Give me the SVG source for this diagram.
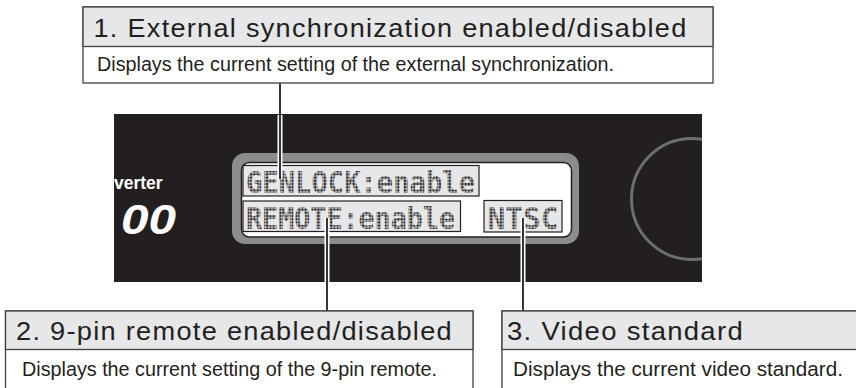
<svg xmlns="http://www.w3.org/2000/svg" width="856" height="388" viewBox="0 0 856 388">
  <defs>
    <style>
      .box { fill: #ffffff; stroke: #414042; stroke-width: 1.3; }
      .hdr { fill: #e6e7e8; stroke: #414042; stroke-width: 1.3; }
      .htxt { font-family: "Liberation Sans", Arial, sans-serif; font-size: 25.5px; letter-spacing: 1.2px; fill: #231f20; }
      .dtxt { font-family: "Liberation Sans", Arial, sans-serif; font-size: 20.5px; fill: #231f20; }
      .lcdbox { fill: #e6e7e8; stroke: #231f20; stroke-width: 1.2; }
      .lcdtxt { font-family: "DejaVu Sans Mono", "Liberation Mono", monospace; font-weight: bold; font-size: 31px; fill: url(#dots); }
      .halo { stroke: #ffffff; stroke-width: 5; fill: none; }
      .wire { stroke: #231f20; stroke-width: 1.8; fill: none; }
      .logo { font-family: "Liberation Sans", Arial, sans-serif; font-weight: bold; fill: #ffffff; }
    </style>
    <pattern id="dots" width="3.2" height="3.2" patternUnits="userSpaceOnUse">
      <rect x="0.4" y="0.4" width="2.4" height="2.4" fill="#231f20"/>
    </pattern>
    <clipPath id="panelClip">
      <rect x="114" y="114" width="588" height="168"/>
    </clipPath>
  </defs>

  <rect x="0" y="0" width="856" height="388" fill="#ffffff"/>

  <!-- Device panel -->
  <g id="panel">
    <rect x="114" y="114" width="588" height="168" fill="#231f20"/>
    <g clip-path="url(#panelClip)">
      <circle cx="692" cy="199" r="60.5" fill="none" stroke="#6d6e71" stroke-width="3"/>
      <text class="logo" x="114" y="189" font-size="17.5">verter</text>
      <text class="logo" x="121" y="234" font-size="42" font-style="italic" textLength="55" lengthAdjust="spacingAndGlyphs">00</text>
    </g>
  </g>

  <!-- LCD -->
  <g id="lcd">
    <rect x="232" y="153" width="347" height="91" rx="13" ry="13" fill="#8a8c8e"/>
    <rect x="241.5" y="162.5" width="330" height="74.5" rx="8" ry="8" fill="#ffffff" stroke="#231f20" stroke-width="1.5"/>
  </g>

  <g id="lcd-genlock">
    <rect class="lcdbox" x="243" y="165.5" width="236" height="30.5"/>
    <text class="lcdtxt" x="246" y="193" textLength="229" lengthAdjust="spacingAndGlyphs">GENLOCK:enable</text>
  </g>
  <g id="lcd-remote">
    <rect class="lcdbox" x="243" y="201" width="217.5" height="30.5"/>
    <text class="lcdtxt" x="246" y="228.5" textLength="209" lengthAdjust="spacingAndGlyphs">REMOTE:enable</text>
  </g>
  <g id="lcd-ntsc">
    <rect class="lcdbox" x="484" y="200.5" width="78" height="31.5"/>
    <text class="lcdtxt" x="487.5" y="228.5" textLength="71" lengthAdjust="spacingAndGlyphs">NTSC</text>
  </g>

  <!-- Connectors -->
  <g id="connectors">
    <line class="halo" x1="280" y1="115" x2="280" y2="179"/>
    <line class="wire" x1="280" y1="83" x2="280" y2="179"/>
    <line class="halo" x1="327" y1="218" x2="327" y2="282"/>
    <line class="wire" x1="327" y1="218" x2="327" y2="311"/>
    <line class="halo" x1="523" y1="218" x2="523" y2="282"/>
    <line class="wire" x1="523" y1="218" x2="523" y2="311"/>
  </g>

  <!-- Callout 1 -->
  <g id="callout-1">
    <rect class="box" x="83" y="7" width="630" height="76"/>
    <rect class="hdr" x="83" y="7" width="630" height="39.5"/>
    <text class="htxt" x="93.5" y="36.5" textLength="594" lengthAdjust="spacingAndGlyphs">1. External synchronization enabled/disabled</text>
    <text class="dtxt" x="97" y="71" textLength="517" lengthAdjust="spacingAndGlyphs">Displays the current setting of the external synchronization.</text>
  </g>

  <!-- Callout 2 -->
  <g id="callout-2">
    <rect class="box" x="5.5" y="311" width="467.5" height="85"/>
    <rect class="hdr" x="5.5" y="311" width="467.5" height="38.5"/>
    <text class="htxt" x="16" y="340" textLength="437" lengthAdjust="spacingAndGlyphs">2. 9-pin remote enabled/disabled</text>
    <text class="dtxt" x="22" y="376" textLength="415" lengthAdjust="spacingAndGlyphs">Displays the current setting of the 9-pin remote.</text>
  </g>

  <!-- Callout 3 -->
  <g id="callout-3">
    <rect class="box" x="502" y="311" width="370" height="85"/>
    <rect class="hdr" x="502" y="311" width="370" height="38.5"/>
    <text class="htxt" x="507" y="340" textLength="237" lengthAdjust="spacingAndGlyphs">3. Video standard</text>
    <text class="dtxt" x="513" y="376" textLength="330" lengthAdjust="spacingAndGlyphs">Displays the current video standard.</text>
  </g>
</svg>
